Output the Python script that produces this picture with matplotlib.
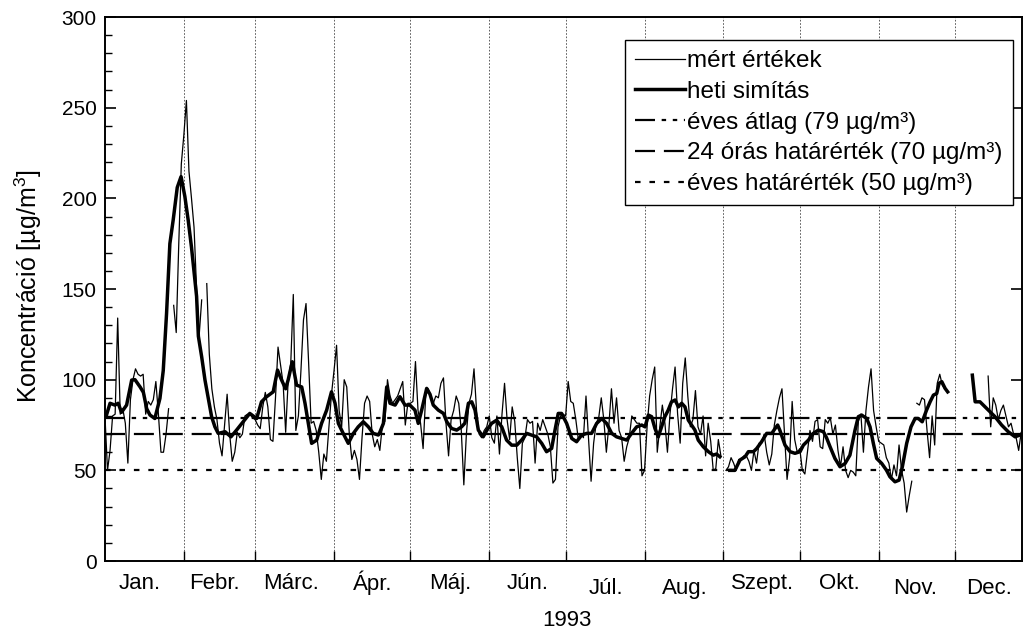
import numpy as np
import matplotlib
matplotlib.use("Agg")
import matplotlib.pyplot as plt
from matplotlib.transforms import blended_transform_factory

plt.rcParams['font.family'] = ['Liberation Sans', 'DejaVu Sans']
plt.rcParams['mathtext.fontset'] = 'custom'
plt.rcParams['mathtext.rm'] = 'Liberation Sans'
plt.rcParams['mathtext.it'] = 'Liberation Sans'

nan = np.nan
# ---------------- data ----------------
months = ["Jan.", "Febr.", "Márc.", "Ápr.", "Máj.", "Jún.", "Júl.", "Aug.",
          "Szept.", "Okt.", "Nov.", "Dec."]
month_len = [31, 28, 31, 30, 31, 30, 31, 31, 30, 31, 30, 31]
label_drop = [0, 0, 0, 0, 0, 0, 1, 1, 0, 0, 1, 1]

# daily measured values (day index 0 = Jan 1); nan = missing
measured = [
    80, 50, 61, 80, 81, 134, 81, 84, 76, 54,          # 0-9
    89, 100, 106, 103, 102, 103, 81, 88, 86, 89,      # 10-19
    99, 81, 60, 60, 70, 84, nan, 141, 126, 175,       # 20-29
    219, 235, 254, 215, 200, 184, 150, 124, 144, nan, # 30-39
    153, 114, 95, 85, 78, 65, 58, 75, 92, 70,         # 40-49
    55, 60, 71, 68, 70, 80, 81, 81, 79, 78,           # 50-59
    75, 73, 85, 93, 85, 67, 66, 90, 118, 108,         # 60-69
    98, 71, 100, 109, 147, 72, 80, 105, 133, 142,     # 70-79
    110, 76, 77, 72, 60, 45, 59, 55, 74, 92,          # 80-89
    105, 119, 83, 74, 100, 96, 70, 56, 61, 56,        # 90-99
    45, 68, 87, 91, 88, 70, 63, 67, 61, 75,           # 100-109
    77, 100, 91, 87, 89, 91, 95, 99, 75, 87,          # 110-119
    87, 88, 110, 83, 76, 62, 91, 95, 91, 87,          # 120-129
    91, 90, 98, 101, 76, 58, 78, 83, 91, 87,          # 130-139
    72, 42, 70, 87, 92, 106, 83, 70, 68, 72,          # 140-149
    74, 80, 68, 65, 80, 59, 81, 98, 78, 67,           # 150-159
    85, 77, 57, 40, 65, 68, 78, 76, 77, 54,           # 160-169
    76, 72, 78, 74, 70, 63, 43, 45, 74, 80,           # 170-179
    81, 80, 99, 88, 87, 78, 67, 70, 68, 91,           # 180-189
    68, 44, 65, 76, 79, 90, 78, 60, 75, 95,           # 190-199
    76, 90, 72, 68, 55, 63, 68, 80, 78, 76,           # 200-209
    76, 47, 50, 74, 91, 100, 107, 60, 74, 86,         # 210-219
    76, 60, 81, 95, 107, 81, 65, 98, 112, 91,         # 220-229
    74, 78, 94, 74, 70, 80, 58, 76, 66, 50,           # 230-239
    51, 67, 58, nan, 50, 52, 57, 54, 50, 56,          # 240-249
    56, 58, 58, 55, 50, 61, 54, 65, 65, 70,           # 250-259
    60, 53, 59, 75, 83, 90, 95, 70, 45, 57,           # 260-269
    88, 67, 60, 62, 50, 48, 60, 72, 66, 77,           # 270-279
    78, 63, 62, 78, 76, 79, 70, 75, 61, 52,           # 280-289
    63, 50, 46, 50, 49, 47, 77, 81, 60, 83,           # 290-299
    96, 106, 83, 74, 66, 65, 64, 57, 54, 45,          # 300-309
    53, 47, 64, 50, 43, 27, 36, 44, nan, 87,          # 310-319
    86, 90, 89, 72, 57, 80, 64, 98, 103, 97,          # 320-329
    95, nan, nan, nan, nan, nan, nan, nan, nan, nan,  # 330-339
    nan, nan, nan, nan, nan, nan, nan, 102, 74, 90,   # 340-349
    86, 78, 83, 86, 80, 74, 76, 70, 68, 61,           # 350-359
    71, 73,                                           # 360-361
]

# weekly smoothing, read at irregular days; nan = break
smooth_day = [
    0.4, 2.0, 3.9, 5.2, 6.5, 8.5, 10.5, 11.8, 13.8, 15.1, 16.4, 17.7, 19.6,
    21.6, 22.9, 24.2, 25.5, 26.8, 28.4, 29.9, 31.4, 32.7, 34.0, 36.0, 36.7,
    38.0, 39.3, 40.6, 41.9, 43.2, 44.5, 47.2, 49.5, 51.7, 54.3, 56.9, 59.6,
    61.5, 63.5, 66.1, 67.8, 69.4, 71.0, 72.0, 73.6, 75.3, 77.3, 78.6, 79.9,
    81.2, 83.2, 85.1, 87.1, 89.0, 90.4, 91.7, 93.6, 95.6, 97.6, 99.5, 101.5,
    103.5, 105.4, 107.4, 108.0, 109.4, 110.7, 112.0, 114.0, 115.9, 117.9,
    119.8, 121.8, 123.1, 124.4, 126.4, 127.7, 129.0, 131.0, 133.0, 134.3,
    136.2, 138.2, 140.1, 141.4, 142.8, 144.1, 145.4, 146.7, 148.6, 150.0,
    151.9, 153.9, 155.9, 157.8, 159.8, 161.8, 163.7, 165.7, 167.6, 169.6,
    171.6, 173.5, 175.5, 176.8, 178.1, 179.4, 181.4, 183.4, 185.3, 187.3,
    189.3, 191.2, 193.2, 195.2, 197.1, 199.1, 201.0, 203.0, 205.0, 206.9,
    208.9, 210.9, 212.2, 213.5, 214.8, 216.1, 217.4, 218.7, 220.0, 221.3,
    222.6, 224.0, 225.3, 226.6, 227.9, 229.2, 230.5, 231.8, 233.1, 235.1,
    237.1, 239.0, 240.3, 241.6, 243.5, 245.5, 247.5, 249.5, 251.5, 252.8,
    254.8, 256.1, 258.0, 260.0, 262.0, 263.3, 264.3, 265.2, 267.2, 269.2,
    271.1, 273.1, 274.4, 276.4, 278.3, 280.3, 282.3, 283.5, 284.9, 286.8,
    288.8, 290.8, 292.7, 294.7, 296.0, 297.3, 299.3, 300.6, 301.9, 303.2,
    305.2, 307.1, 308.4, 310.4, 312.0, 313.3, 315.0, 316.7, 318.3, 319.6,
    321.1, 322.8, 324.2, 325.5, 326.8, 327.7, 328.8, 330.1, 331.1, 336.0,
    340.8, 341.9, 343.8, 345.1, 347.1, 349.7, 352.3, 354.9, 357.6, 359.5,
    360.7,
]
smooth_val = [
    79.6, 87, 86, 87, 82, 86, 99.8, 100, 96, 93, 84, 80.5, 78.6,
    89.7, 105, 136.5, 175, 188, 206, 212, 201, 188, 173, 146, 124,
    112.6, 99.8, 89.7, 79.6, 74, 70.4, 71.3, 68.5, 72.2, 76.8, 81.4, 78.6,
    87.8, 90.6, 93.3, 105.3, 99.8, 95, 100, 109.9, 97, 96, 87, 75.9,
    64.9, 66.7, 75.9, 83.2, 93.3, 87, 75.9, 70.4, 64.9, 70.4, 74, 76.8,
    74, 70.4, 69.5, 71, 75.9, 96, 87, 86, 90.6, 86,
    86, 83.2, 75.9, 83, 95.2, 92, 86, 83.2, 81.4, 76.8,
    73.1, 72.2, 74, 76, 87, 87.8, 83.2, 72.2, 68.5, 72,
    75.9, 77.7, 74, 66.7, 63.9, 63.9, 66.7, 70.4, 69.5, 68.5,
    64.9, 60.3, 62.1, 72, 81.4, 81.4, 75.9, 67.6, 65.8, 69.5,
    70.4, 70.4, 75.9, 78.6, 75.9, 70.4, 68.5, 67.6, 66.7, 70.4,
    74, 75, 74, 80.5, 79.6, 73.1, 68.5, 74, 79.6, 83.2,
    87.8, 88.8, 85, 87, 85, 77.7, 75, 72.2, 66.7, 63,
    60.3, 58.4, 59, 57.5, nan, 50, 50, 55.7, 57.5, 60.3,
    60.3, 62.1, 65.8, 70.4, 70.4, 73.1, 75, 72, 63.9, 60.3,
    59.4, 60.3, 63.9, 66.7, 70.4, 72.2, 71.3, 68, 63, 56.6,
    52, 53.8, 58.4, 72.2, 79.6, 80.5, 78.6, 74, 64.9, 56.6,
    53.8, 50, 46.5, 43.7, 44.6, 52, 64.9, 74, 78.6, 78.6,
    76.8, 83.2, 87.8, 91.5, 92.4, 98, 98.9, 95.2, 93.3, nan,
    102.5, 87.8, 87.8, 86, 83.2, 79.6, 75, 71.3, 68.5, 69.5,
    70.4,
]

annual_mean = 79
limit_24h = 70
limit_annual = 50
y_ticks = [0, 50, 100, 150, 200, 250, 300]

# ---------------- figure ----------------
fig = plt.figure(figsize=(10.23, 6.34), dpi=100)
ax = fig.add_axes([0.1026, 0.1151, 0.8964, 0.858])

days = np.arange(len(measured))
ax.plot(days, measured, color='black', lw=0.9, label='mért értékek', zorder=3)
ax.plot(smooth_day, smooth_val, color='black', lw=2.5, label='heti simítás',
        zorder=4, solid_joinstyle='round')

ax.axhline(annual_mean, color='black', lw=1.6, dashes=(9, 3, 2, 3, 2, 3),
           label='éves átlag (79 µg/m³)', zorder=2)
ax.axhline(limit_24h, color='black', lw=1.6, dashes=(9, 4),
           label='24 órás határérték (70 µg/m³)', zorder=2)
ax.axhline(limit_annual, color='black', lw=1.6, dashes=(2.5, 4),
           label='éves határérték (50 µg/m³)', zorder=2)

bounds = np.cumsum(month_len)[:-1]
for b in bounds:
    ax.axvline(b, color='#444444', lw=0.6, dashes=(2, 2), zorder=1)

ax.set_xlim(0, 360.3)
ax.set_ylim(0, 300)
ax.set_yticks(y_ticks)
ax.set_yticks(np.arange(0, 301, 10), minor=True)
ax.set_xticks(bounds)
ax.set_xticklabels([])
ax.tick_params(axis='y', which='major', direction='in', length=8, width=1.2,
               labelsize=15, right=True, pad=6)
ax.tick_params(axis='y', which='minor', direction='in', length=5, width=1.0,
               right=False)
ax.tick_params(axis='x', which='major', direction='in', length=7, width=1.0,
               top=False)
for s in ax.spines.values():
    s.set_linewidth(1.4)

trans = blended_transform_factory(ax.transData, ax.transAxes)
starts = np.concatenate([[0], bounds])
ends = np.concatenate([bounds, [365]])
label_shift = [-2, -2, -1.5, 0, 0, 0, 0.5, 0.5, 0.5, 0, -0.5, -2]
for m, s0, e0, d, sh in zip(months, starts, ends, label_drop, label_shift):
    ax.text((s0 + e0) / 2.0 + sh, -0.0404 - 0.0092 * d, m, transform=trans,
            ha='center', va='center', fontsize=16)

fig.text(0.554, 0.022, '1993', ha='center', va='center', fontsize=16)
fig.text(0.028, 0.549, 'Koncentráció [µg/m$^3$]', rotation=90,
         ha='center', va='center', fontsize=18)

leg = ax.legend(loc='upper right', bbox_to_anchor=(0.990, 0.958),
                fontsize=17.5, frameon=True, fancybox=False, framealpha=1,
                edgecolor='black', handlelength=2.05, handletextpad=0.1,
                borderpad=0.42, labelspacing=0.36, borderaxespad=0)
leg.get_frame().set_linewidth(1.0)

fig.savefig('out.png', dpi=100)
